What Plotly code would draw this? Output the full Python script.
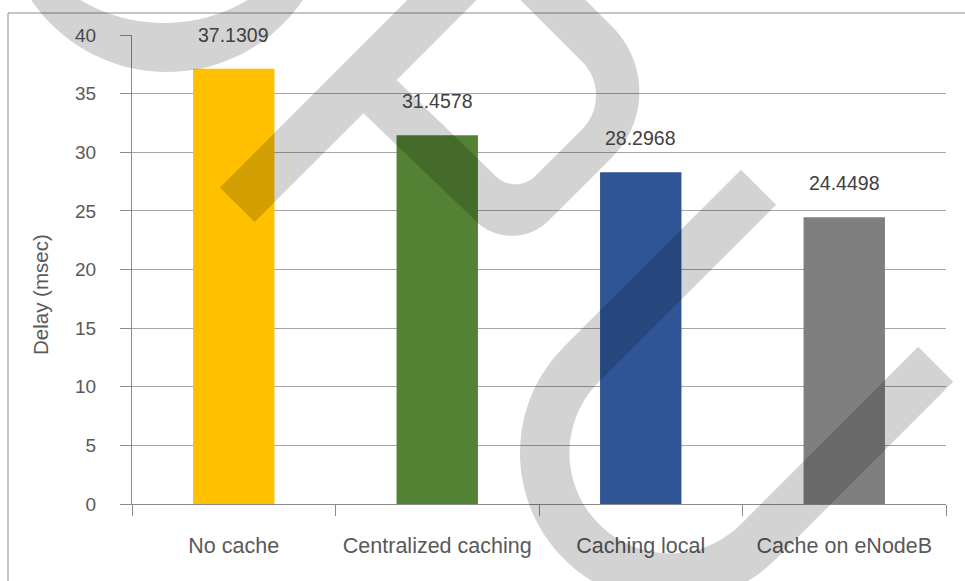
import numpy as np
import plotly.graph_objects as go

# ---- data -------------------------------------------------------------
categories = ["No cache", "Centralized caching", "Caching local", "Cache on eNodeB"]
delay_ms = [37.1309, 31.4578, 28.2968, 24.4498]
bar_colors = ["#FFC000", "#548235", "#2F5597", "#7F7F7F"]
y_ticks = [0, 5, 10, 15, 20, 25, 30, 35, 40]

# ---- page geometry (pixels) -----------------------------------------
W, H = 965, 581
ML, MR, MT, MB = 132, 19, 35, 77
PW, PH = W - ML - MR, H - MT - MB

FONT = "Liberation Sans, Arial, sans-serif"
TXT = "#595959"
LINE = "#8C8C8C"


def px(x):
    return (x - ML) / PW


def py(y):
    return (H - MB - y) / PH


def to_path(loops):
    parts = []
    for pts in loops:
        seg = "M " + " L ".join(f"{px(x):.5f},{py(y):.5f}" for x, y in pts) + " Z"
        parts.append(seg)
    return " ".join(parts)


def uv(u, v):
    s = np.sqrt(2.0)
    return ((u + v) / s, (v - u) / s)


def arc(cu, cv, r, a0, a1, n=40):
    t = np.radians(np.linspace(a0, a1, n))
    return [uv(cu + r * np.cos(a), cv + r * np.sin(a)) for a in t]


def circle(cx, cy, r, n=120):
    t = np.linspace(0, 2 * np.pi, n, endpoint=False)
    return [(cx + r * np.cos(a), cy + r * np.sin(a)) for a in t]


# ---- watermark logo outlines (in pixel space, rotated 45 deg) -------
crescent = [circle(167, -92, 164), circle(164, -140, 163)]

p_outer = ([uv(23, 288), uv(700, 288), uv(700, 337), uv(414, 337), uv(414, 452)]
           + arc(322, 452, 92, 0, 90)
           + [uv(232, 544)]
           + arc(232, 492, 52, 90, 180)
           + [uv(177, 337), uv(23, 337)])
p_hole = ([uv(224, 337), uv(368, 337), uv(368, 455)]
          + arc(320, 455, 48, 0, 90)
          + [uv(254, 503)]
          + arc(254, 475, 28, 90, 180))

uc, vc = 153.5, 794
c_shape = ([uv(404, 644)]
           + arc(uc, vc, 150, 270, 90, 80)
           + [uv(404, 944), uv(404, 894.5)]
           + arc(uc, vc, 100.5, 90, 270, 80)
           + [uv(404, 693.7)])

wm_fill = "rgba(0,0,0,0.172)"
shapes = []
for loops in (crescent, [p_outer, p_hole], [c_shape]):
    shapes.append(dict(type="path", xref="paper", yref="paper", path=to_path(loops),
                       fillcolor=wm_fill, line=dict(width=0), layer="above",
                       fillrule="evenodd"))

# outer chart frame
shapes.append(dict(type="line", xref="paper", yref="paper", x0=px(8), x1=px(8),
                   y0=py(13), y1=py(H + 5), line=dict(color=LINE, width=1), layer="below"))
shapes.append(dict(type="line", xref="paper", yref="paper", x0=px(8), x1=px(W + 5),
                   y0=py(13), y1=py(13), line=dict(color=LINE, width=1), layer="below"))

fig = go.Figure(go.Bar(x=categories, y=delay_ms, marker=dict(color=bar_colors, line=dict(width=0)),
                       width=0.4, hoverinfo="skip"))

annotations = [dict(x=c, y=v, xref="x", yref="y", text=str(v), showarrow=False,
                    yanchor="middle", yshift=34, font=dict(family=FONT, size=19.5, color="#404040"))
               for c, v in zip(categories, delay_ms)]
annotations.append(dict(x=px(40), y=py(295), xref="paper", yref="paper", text="Delay (msec)",
                        textangle=-90, showarrow=False, xanchor="center", yanchor="middle",
                        font=dict(family=FONT, size=20.5, color=TXT)))

fig.update_layout(
    width=W, height=H, margin=dict(l=ML, r=MR, t=MT, b=MB, pad=0),
    paper_bgcolor="white", plot_bgcolor="white", showlegend=False,
    font=dict(family=FONT, size=19, color=TXT),
    shapes=shapes, annotations=annotations,
)
fig.update_xaxes(type="category", tickson="boundaries", ticks="outside", ticklen=11,
                 tickcolor=LINE, showline=True, linecolor=LINE, linewidth=1, showgrid=False,
                 ticklabelstandoff=22, tickfont=dict(family=FONT, size=21.5, color=TXT))
fig.update_yaxes(range=[0, 40], tickvals=y_ticks, ticks="outside", ticklen=11, tickcolor=LINE,
                 showline=True, linecolor=LINE, linewidth=1, showgrid=True, gridcolor="#A6A6A6",
                 zeroline=False, ticklabelstandoff=20, tickfont=dict(family=FONT, size=19, color=TXT))

fig.write_html("out.html")
